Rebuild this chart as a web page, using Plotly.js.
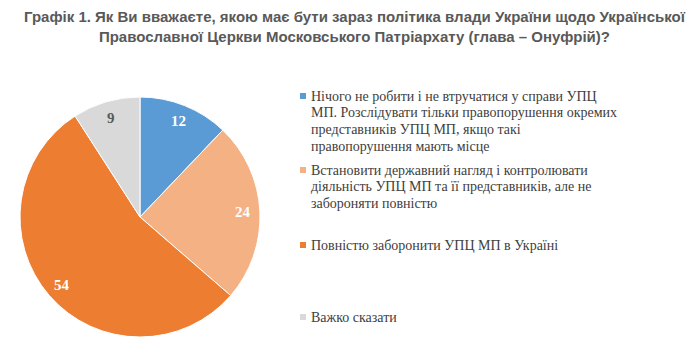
<!DOCTYPE html>
<html><head><meta charset="utf-8">
<script src="https://cdn.plot.ly/plotly-3.0.1.min.js"></script>
<style>html,body{margin:0;padding:0;background:#fff;}#chart{width:690px;height:351px;}</style>
</head><body><div id="chart"></div>
<script>
const categories = [
  "Нічого не робити і не втручатися у справи УПЦ<br>МП. Розслідувати тільки правопорушення окремих<br>представників УПЦ МП, якщо такі<br>правопорушення мають місце",
  "Встановити державний нагляд і контролювати<br>діяльність УПЦ МП та її представників, але не<br>забороняти повністю",
  "Повністю заборонити УПЦ МП в Україні",
  "Важко сказати"
];
const values = [12, 24, 54, 9];
const colors = ["#5B9BD5", "#F4B183", "#ED7D31", "#D9D9D9"];
const labelColors = ["#ffffff", "#ffffff", "#ffffff", "#595959"];
const titleText = "Графік 1. Як Ви вважаєте, якою має бути зараз політика влади України щодо Української<br>Православної Церкви Московського Патріархату (глава – Онуфрій)?";

const W = 690, H = 351;
const px = x => x / W;
const py = y => 1 - y / H;

// pie geometry (pixels)
const cx = 140, cy = 217, R = 120;
const legendFirstLine = [96, 170, 245, 317];
const lineStep = 16.7;

const total = values.reduce((a, b) => a + b, 0);
const annotations = [];
const shapes = [];
let cum = 0;
values.forEach((v, i) => {
  const mid = (cum + v / 2) / total * 2 * Math.PI;
  cum += v;
  const r = 0.86 * R;
  annotations.push({
    x: px(cx + r * Math.sin(mid)), y: py(cy - r * Math.cos(mid)),
    xref: "paper", yref: "paper", xanchor: "center", yanchor: "middle", showarrow: false,
    text: "<b>" + v + "</b>",
    font: {family: "Liberation Serif, Times New Roman, serif", size: 15, color: labelColors[i]}
  });
  categories[i].split("<br>").forEach((line, k) => {
    annotations.push({
      x: px(309), y: py(legendFirstLine[i] + k * lineStep), xref: "paper", yref: "paper",
      xanchor: "left", yanchor: "middle", align: "left", showarrow: false,
      text: line,
      font: {family: "Liberation Serif, Times New Roman, serif", size: 14, color: "#404040"}
    });
  });
  shapes.push({
    type: "rect", xref: "paper", yref: "paper",
    x0: px(300), x1: px(306), y0: py(legendFirstLine[i] - 3), y1: py(legendFirstLine[i] + 3),
    fillcolor: colors[i], line: {width: 0}
  });
});
annotations.push({
  x: px(355), y: py(6), xref: "paper", yref: "paper", xanchor: "center", yanchor: "top",
  showarrow: false, text: "<b>" + titleText + "</b>",
  font: {family: "Liberation Sans Narrow, Liberation Sans, Arial, sans-serif", size: 15, color: "#595959"}
});

const data = [{
  type: "pie", values: values, labels: categories, sort: false, direction: "clockwise",
  rotation: 0, textinfo: "none", hoverinfo: "none",
  marker: {colors: colors, line: {color: "#ffffff", width: 1}},
  domain: {x: [px(cx - R), px(cx + R)], y: [py(cy + R), py(cy - R)]}
}];
const layout = {
  width: W, height: H, margin: {l: 0, r: 0, t: 0, b: 0},
  showlegend: false, paper_bgcolor: "#fff", annotations: annotations, shapes: shapes
};
Plotly.newPlot("chart", data, layout, {displayModeBar: false, staticPlot: true});
</script></body></html>
